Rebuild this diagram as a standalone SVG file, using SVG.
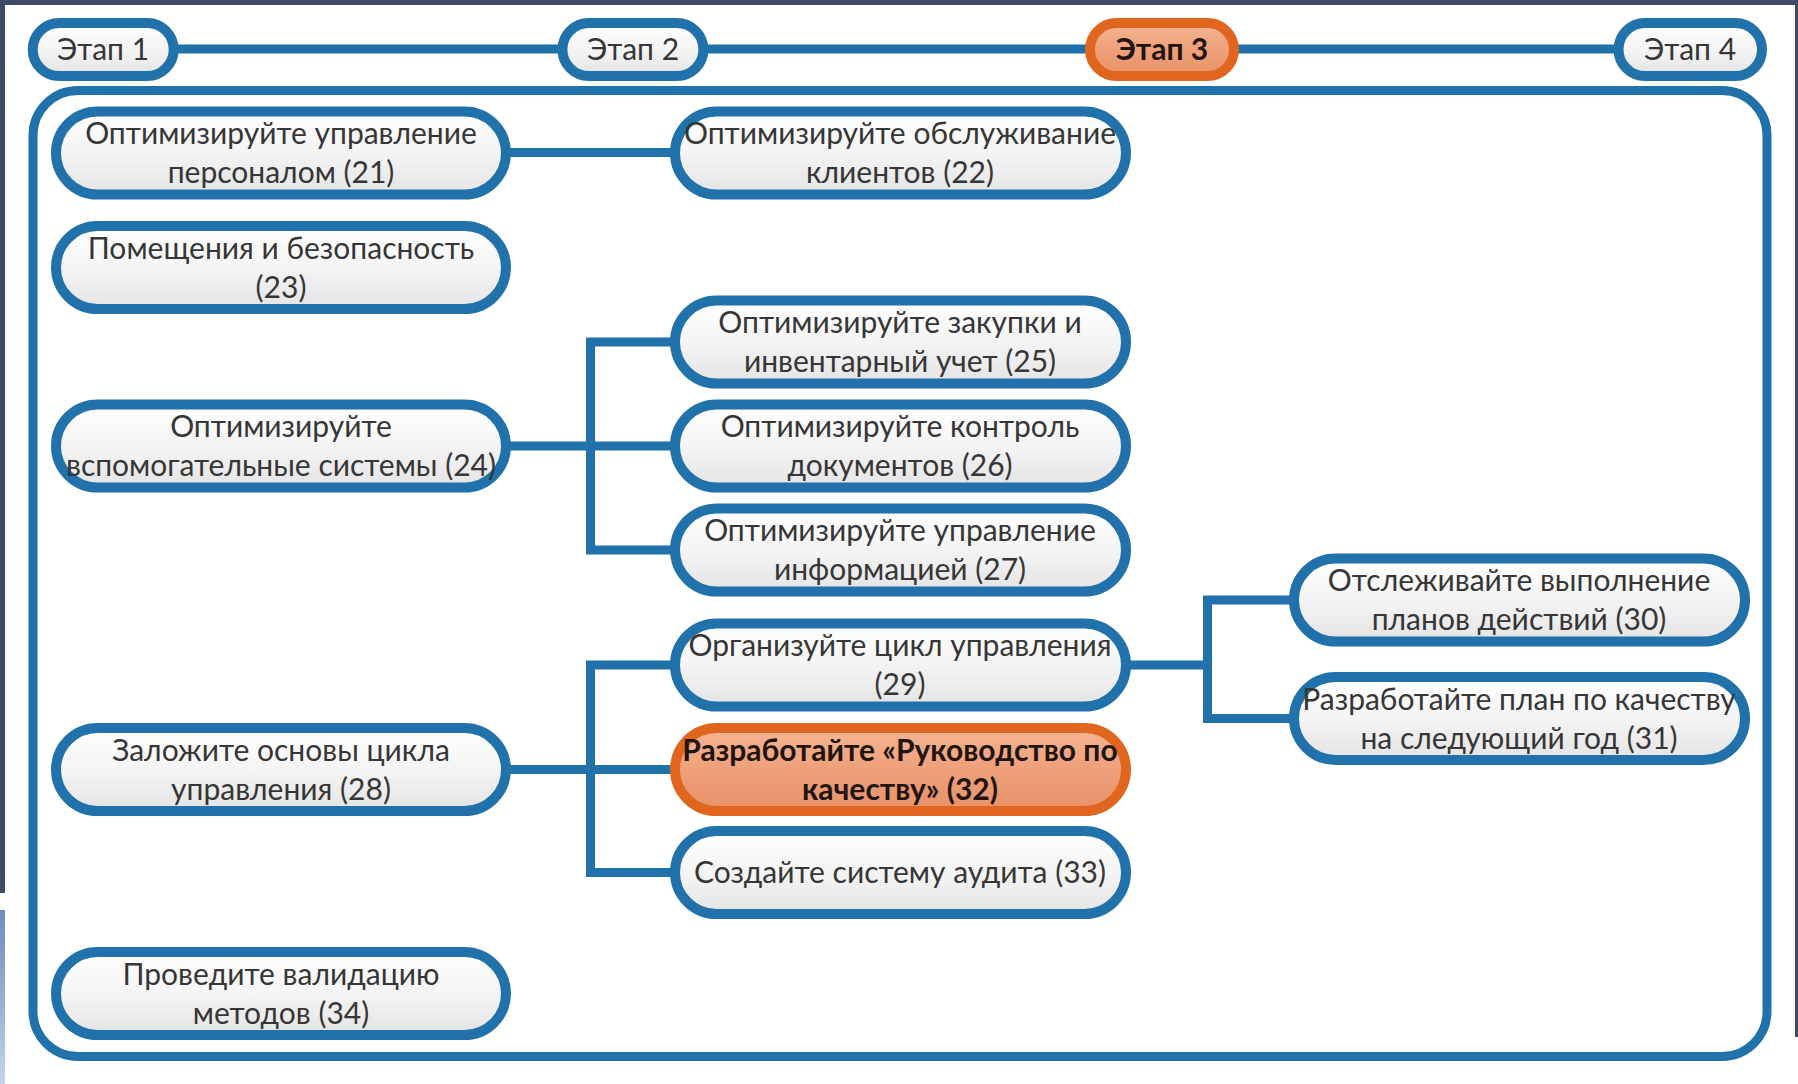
<svg xmlns="http://www.w3.org/2000/svg" width="1798" height="1084" viewBox="0 0 1798 1084">
<defs>
<linearGradient id="gNode" x1="0" y1="0" x2="0" y2="1">
<stop offset="0" stop-color="#ffffff"/>
<stop offset="0.5" stop-color="#f4f4f4"/>
<stop offset="1" stop-color="#e4e4e4"/>
</linearGradient>
<linearGradient id="gOrange" x1="0" y1="0" x2="0" y2="1">
<stop offset="0" stop-color="#f4b592"/>
<stop offset="0.5" stop-color="#eea07a"/>
<stop offset="1" stop-color="#e8916a"/>
</linearGradient>
<linearGradient id="gSide" x1="0" y1="0" x2="0" y2="1">
<stop offset="0" stop-color="#6d8bbd"/>
<stop offset="1" stop-color="#c3d3ea"/>
</linearGradient>
<style>
.node{fill:url(#gNode);stroke:#2171ab;stroke-width:10}
.hot{fill:url(#gOrange);stroke:#e0661f;stroke-width:10}
.conn{fill:none;stroke:#2171ab;stroke-width:9;stroke-linejoin:miter}
.frame{fill:#ffffff;stroke:#2171ab;stroke-width:9}
.t{font-family:Lato,"Liberation Sans",sans-serif;font-size:30px;fill:#363636;text-anchor:middle}
.b{font-weight:bold;fill:#221510}
</style>
</defs>
<rect x="0" y="0" width="1798" height="1084" fill="#ffffff"/>
<rect x="0" y="0" width="1798" height="5" fill="#3c4a68"/>
<rect x="0" y="0" width="5" height="893" fill="#3c4a68"/>
<rect x="0" y="910" width="5" height="174" fill="url(#gSide)"/>
<rect x="1795" y="0" width="3" height="1037" fill="#3c4a68"/>

<g id="frame">
<rect class="frame" x="33" y="90.5" width="1734" height="966" rx="45"/>
</g>

<g id="connectors">
<line class="conn" x1="100" y1="49" x2="1700" y2="49"/>
<path class="conn" d="M505 152.5 H676"/>
<path class="conn" d="M505 446 H676 M676 342 H590.5 V550 H676"/>
<path class="conn" d="M505 769.5 H676 M676 665 H590.5 V872.5 H676"/>
<path class="conn" d="M1125 665 H1207.5 M1295 600 H1207.5 V718.5 H1295"/>
</g>

<g id="stage1"><rect class="node" x="32.7" y="23" width="141" height="53" rx="26.5"/><text class="t" x="103" y="60">Этап 1</text></g>
<g id="stage2"><rect class="node" x="562.4" y="23" width="141" height="53" rx="26.5"/><text class="t" x="633" y="60">Этап 2</text></g>
<g id="stage3"><rect class="hot" x="1090" y="23" width="144" height="53" rx="26.5"/><text class="t b" x="1162" y="60">Этап 3</text></g>
<g id="stage4"><rect class="node" x="1618.5" y="23" width="143.5" height="53" rx="26.5"/><text class="t" x="1690" y="60">Этап 4</text></g>

<g id="n21"><rect class="node" x="56" y="111.5" width="450" height="83" rx="41.5"/><text class="t" x="281" y="144">Оптимизируйте управление</text><text class="t" x="281" y="183">персоналом (21)</text></g>
<g id="n22"><rect class="node" x="675" y="111.5" width="451" height="83" rx="41.5"/><text class="t" x="900" y="144">Оптимизируйте обслуживание</text><text class="t" x="900" y="183">клиентов (22)</text></g>
<g id="n23"><rect class="node" x="56" y="226" width="450" height="83" rx="41.5"/><text class="t" x="281" y="258.5">Помещения и безопасность</text><text class="t" x="281" y="297.5">(23)</text></g>
<g id="n24"><rect class="node" x="56" y="404.5" width="450" height="83" rx="41.5"/><text class="t" x="281" y="437">Оптимизируйте</text><text class="t" x="281" y="476">вспомогательные системы (24)</text></g>
<g id="n25"><rect class="node" x="675" y="300.5" width="451" height="83" rx="41.5"/><text class="t" x="900" y="333">Оптимизируйте закупки и</text><text class="t" x="900" y="372">инвентарный учет (25)</text></g>
<g id="n26"><rect class="node" x="675" y="404.5" width="451" height="83" rx="41.5"/><text class="t" x="900" y="437">Оптимизируйте контроль</text><text class="t" x="900" y="476">документов (26)</text></g>
<g id="n27"><rect class="node" x="675" y="508.5" width="451" height="83" rx="41.5"/><text class="t" x="900" y="541">Оптимизируйте управление</text><text class="t" x="900" y="580">информацией (27)</text></g>
<g id="n28"><rect class="node" x="56" y="728" width="450" height="83" rx="41.5"/><text class="t" x="281" y="760.5">Заложите основы цикла</text><text class="t" x="281" y="799.5">управления (28)</text></g>
<g id="n29"><rect class="node" x="675" y="623.5" width="451" height="83" rx="41.5"/><text class="t" x="900" y="656">Организуйте цикл управления</text><text class="t" x="900" y="695">(29)</text></g>
<g id="n32"><rect class="hot" x="675" y="728" width="451" height="83" rx="41.5"/><text class="t b" x="900" y="760.5">Разработайте «Руководство по</text><text class="t b" x="900" y="799.5">качеству» (32)</text></g>
<g id="n33"><rect class="node" x="675" y="831" width="451" height="83" rx="41.5"/><text class="t" x="900" y="883">Создайте систему аудита (33)</text></g>
<g id="n30"><rect class="node" x="1294" y="558.5" width="451" height="83" rx="41.5"/><text class="t" x="1519" y="591">Отслеживайте выполнение</text><text class="t" x="1519" y="630">планов действий (30)</text></g>
<g id="n31"><rect class="node" x="1294" y="677" width="451" height="83" rx="41.5"/><text class="t" x="1519" y="709.5">Разработайте план по качеству</text><text class="t" x="1519" y="748.5">на следующий год (31)</text></g>
<g id="n34"><rect class="node" x="56" y="952" width="450" height="83" rx="41.5"/><text class="t" x="281" y="984.5">Проведите валидацию</text><text class="t" x="281" y="1023.5">методов (34)</text></g>
</svg>
